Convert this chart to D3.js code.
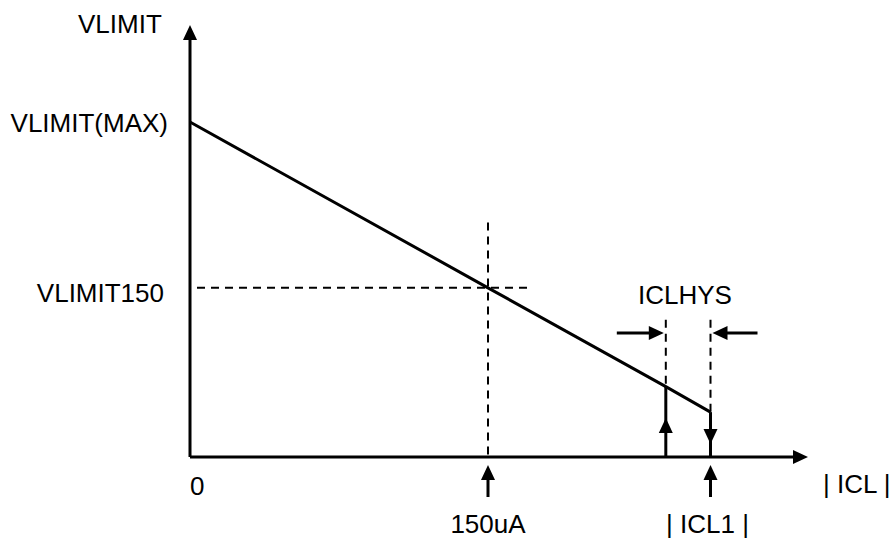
<!DOCTYPE html>
<html>
<head>
<meta charset="utf-8">
<script src="https://cdn.jsdelivr.net/npm/d3@7"></script>
<style>
  body { margin: 0; background: #fff; }
  text { font-family: Arial, "Liberation Sans", sans-serif; font-size: 26px; fill: #000; }
</style>
</head>
<body>
<div id="chart"></div>
<script>
// current values (uA) and normalised VLIMIT
var currents = [0, 150, 239.5, 262];
var vlimit   = [1.0, 0.505, 0.21, 0.134];
var iHysLow = 239.5, iCL1 = 262, i150 = 150;
var xLabels = ["0", "150uA", "| ICL1 |"];
var yLabels = ["VLIMIT(MAX)", "VLIMIT150"];
var axisLabels = ["| ICL |", "VLIMIT"];
var hysLabel = "ICLHYS";

var width = 894, height = 542;

var svg = d3.select("#chart")
  .append("svg")
    .attr("width", width)
    .attr("height", height);

// scales
var x = d3.scaleLinear().domain([0, 300]).range([190, 786]);
var y = d3.scaleLinear().domain([0, 1]).range([457, 122]);

// arrow head: tip at (px,py), pointing in dir (radians)
function arrowHead(px, py, dir) {
  var len = 15, half = 7;
  var bx = px - len * Math.cos(dir), by = py - len * Math.sin(dir);
  var nx = -Math.sin(dir) * half, ny = Math.cos(dir) * half;
  svg.append("path")
    .attr("d", "M" + px + "," + py + "L" + (bx + nx) + "," + (by + ny) + "L" + (bx - nx) + "," + (by - ny) + "Z")
    .attr("fill", "#000");
}

function line(x1, y1, x2, y2, dashed) {
  svg.append("line")
    .attr("x1", x1).attr("y1", y1).attr("x2", x2).attr("y2", y2)
    .attr("stroke", "#000")
    .attr("stroke-width", dashed ? 2 : 3)
    .attr("stroke-dasharray", dashed ? "8,6" : null);
}

var UP = -Math.PI / 2, DOWN = Math.PI / 2, RIGHT = 0, LEFT = Math.PI;

// dashed guides
line(x(0) + 7, y(vlimit[1]), x(170), y(vlimit[1]), true);
line(x(i150), y(0.70), x(i150), y(0), true);
line(x(iHysLow), y(0.41), x(iHysLow), y(vlimit[2]), true);
line(x(iCL1), y(0.41), x(iCL1), y(vlimit[3]), true);

// axes
line(x(0), y(0), x(0), 35, false);
arrowHead(x(0), 25, UP);
line(x(0), y(0), 798, y(0), false);
arrowHead(808, y(0), RIGHT);

// VLIMIT vs |ICL| characteristic
svg.append("path")
  .datum(currents.map(function(d, i) { return [d, vlimit[i]]; }))
  .attr("fill", "none")
  .attr("stroke", "#000")
  .attr("stroke-width", 3)
  .attr("stroke-linejoin", "round")
  .attr("d", d3.line()
    .x(function(d) { return x(d[0]); })
    .y(function(d) { return y(d[1]); }));

// hysteresis jumps
line(x(iHysLow), y(0), x(iHysLow), y(vlimit[2]), false);
arrowHead(x(iHysLow), y(0) - 39, UP);
line(x(iCL1), y(vlimit[3]), x(iCL1), y(0), false);
arrowHead(x(iCL1), y(0) - 13, DOWN);

// ICLHYS arrows
var yHys = 333;
line(x(iHysLow) - 49, yHys, x(iHysLow) - 10, yHys, false);
arrowHead(x(iHysLow) - 2, yHys, RIGHT);
line(x(iCL1) + 47, yHys, x(iCL1) + 12, yHys, false);
arrowHead(x(iCL1) + 2, yHys, LEFT);

// markers under the x axis
[i150, iCL1].forEach(function(d) {
  line(x(d), 497, x(d), 475, false);
  arrowHead(x(d), 465, UP);
});

// labels
svg.append("text").attr("x", x(0)).attr("y", 495).text(xLabels[0]);
svg.append("text").attr("x", x(i150)).attr("y", 533).attr("text-anchor", "middle").text(xLabels[1]);
svg.append("text").attr("x", x(iCL1) - 3).attr("y", 533).attr("text-anchor", "middle").text(xLabels[2]);

svg.append("text").attr("x", 168).attr("y", y(vlimit[0]) + 10).attr("text-anchor", "end").text(yLabels[0]);
svg.append("text").attr("x", 164).attr("y", y(vlimit[1]) + 14).attr("text-anchor", "end").text(yLabels[1]);

svg.append("text").attr("x", 78).attr("y", 33).text(axisLabels[1]);
svg.append("text").attr("x", 823).attr("y", 493).text(axisLabels[0]);

svg.append("text").attr("x", 685).attr("y", 304).attr("text-anchor", "middle").text(hysLabel);
</script>
</body>
</html>
